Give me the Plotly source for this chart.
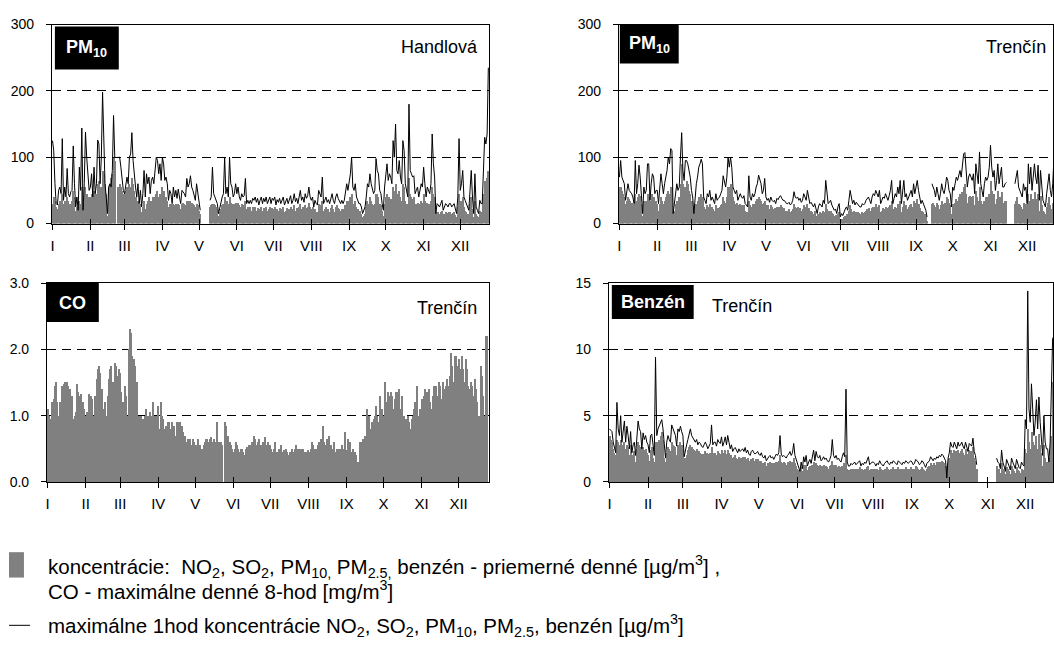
import plotly.graph_objects as go

W, H = 1054, 646
FONT = "Liberation Sans, Arial, sans-serif"

month_labels = ["I", "II", "III", "IV", "V", "VI", "VII", "VIII", "IX", "X", "XI", "XII"]
month_lengths = [31, 28, 31, 30, 31, 30, 31, 31, 30, 31, 30, 31]
N_ = None

# ---- Handlová PM10: daily mean (bars) and daily max 1h (line) ----
hand_mean = [
    30,40,35,25,22,30,35,30,45,30,35,30,40,35,30,28,35,50,40,20,25,18,35,30,55,15,30,55,45,40,35,
    40,45,35,50,40,45,60,65,45,55,80,75,60,45,12,55,60,70,75,100,95,N_,N_,55,60,55,50,45,
    45,50,55,40,60,55,70,60,50,40,30,35,20,30,18,25,35,22,30,35,40,25,35,40,30,40,45,50,40,45,35,
    55,50,40,40,35,25,30,30,22,30,28,30,25,30,28,22,30,32,30,28,35,32,35,35,32,30,28,25,30,28,
    20,15,N_,N_,N_,N_,N_,N_,N_,25,28,30,30,28,25,22,12,18,22,28,30,40,30,35,30,40,32,30,28,30,32,
    30,32,28,25,30,28,28,35,22,25,22,25,20,25,22,25,20,24,18,22,25,20,24,22,25,20,22,25,20,24,
    22,25,18,22,20,24,18,22,25,18,20,24,18,22,26,18,22,28,20,24,18,25,30,22,25,20,28,24,26,32,25,
    22,25,16,22,18,18,30,28,25,35,20,22,25,20,22,18,24,28,22,18,25,28,24,22,20,22,20,22,28,35,30,
    35,40,45,30,30,35,25,22,18,20,15,10,12,15,25,35,30,40,35,30,28,30,45,45,40,30,28,20,12,30,
    40,45,35,40,38,35,55,50,60,45,40,50,40,35,60,55,35,30,28,70,45,40,38,40,28,30,32,25,30,35,32,
    45,35,25,32,30,28,35,55,45,40,10,18,18,15,18,20,12,15,18,16,15,18,18,15,16,18,14,10,25,45,
    30,35,40,25,20,18,15,12,30,40,22,10,35,15,12,10,20,18,18,45,65,60,70,80,
]
hand_max = [
    125,110,60,30,28,50,55,45,128,35,55,40,83,45,40,48,50,117,60,25,40,20,85,50,144,20,60,138,100,70,50,
    55,75,40,85,45,60,126,120,60,100,198,130,60,40,15,55,60,55,80,163,100,N_,N_,100,100,85,60,50,
    45,55,70,60,100,105,137,95,70,55,40,60,30,50,25,45,80,40,75,60,70,45,65,70,60,85,100,95,75,90,65,
    100,90,65,70,60,35,50,45,30,55,40,50,38,52,40,30,50,48,45,40,68,55,60,72,55,50,40,35,60,45,
    30,20,N_,N_,N_,N_,N_,N_,N_,35,40,85,45,40,35,30,15,25,30,40,45,100,45,55,40,100,60,55,40,45,60,
    45,55,40,35,45,40,42,68,30,35,30,35,30,38,35,40,32,38,28,35,40,30,38,33,40,30,35,40,30,38,
    35,40,28,36,32,38,30,35,40,28,33,38,30,36,42,30,35,45,33,38,30,40,50,35,40,32,45,38,42,55,40,
    35,40,25,35,30,28,50,45,40,70,30,35,40,32,36,30,38,45,35,30,40,45,38,35,30,35,30,35,45,60,50,
    60,75,100,55,50,60,40,35,30,30,25,15,20,25,40,60,55,75,60,50,45,50,98,80,75,50,45,30,20,55,
    75,90,65,75,70,60,125,100,150,80,75,95,70,60,125,110,60,50,40,180,80,75,70,72,45,50,55,40,50,60,55,
    85,60,40,55,50,45,60,135,90,70,15,30,28,25,30,35,20,25,30,28,25,30,30,25,28,30,22,15,40,128,
    50,60,80,40,35,30,25,20,50,80,40,15,75,25,20,15,35,30,30,90,130,120,135,235,
]

# ---- Trenčín PM10 ----
tren_mean = [
    55,55,50,45,40,30,35,40,38,35,32,30,25,45,35,40,45,42,30,12,35,30,35,45,40,25,35,45,40,30,35,
    30,20,30,40,35,30,35,40,45,50,45,55,55,10,20,30,35,35,40,60,90,60,45,55,65,60,50,45,
    35,25,10,25,30,35,40,40,45,40,25,22,20,28,25,30,22,25,22,20,28,22,24,25,28,30,40,35,32,40,55,
    55,60,55,40,35,30,32,25,28,30,28,25,28,20,18,18,35,28,25,30,28,30,35,38,40,38,35,30,32,35,
    28,25,28,22,28,25,22,24,20,25,24,26,28,25,22,24,20,20,18,22,18,20,22,30,25,24,25,22,24,20,22,
    28,25,22,30,24,20,20,18,15,20,12,10,15,18,16,15,20,18,30,22,18,20,20,16,15,12,14,10,15,18,
    6,8,8,10,12,15,12,20,28,22,18,20,16,18,18,16,15,15,18,16,18,20,22,24,20,18,24,26,25,30,26,
    24,28,18,20,24,22,26,24,20,25,28,35,18,22,26,24,30,26,35,18,26,35,24,28,22,25,28,30,26,35,30,
    32,38,30,24,18,20,18,15,12,5,N_,N_,N_,30,32,28,25,32,28,22,28,35,30,28,32,40,38,32,28,15,
    30,28,32,38,35,40,45,40,48,55,60,45,32,40,42,40,38,42,28,50,40,35,55,35,30,25,35,40,38,40,45,
    65,50,40,45,30,38,50,35,40,48,32,32,35,35,N_,N_,N_,N_,N_,N_,30,35,40,30,28,25,22,32,28,30,
    18,45,35,45,30,38,48,38,35,45,20,42,28,20,18,15,25,32,40,28,22,32,45,50,
]
tren_max = [
    70,95,70,65,60,35,50,60,50,48,45,40,30,95,45,60,88,70,40,15,55,45,50,90,90,35,60,75,70,45,50,
    50,30,50,75,60,45,60,70,80,100,90,113,110,15,30,45,60,50,55,100,137,80,65,95,95,90,80,70,
    50,40,15,45,60,70,85,90,97,90,40,35,30,45,40,50,35,40,35,30,45,35,38,40,45,50,72,60,55,70,100,
    85,100,85,55,50,45,50,35,40,45,40,38,42,30,28,25,72,40,35,45,40,45,55,60,73,65,60,45,50,68,
    40,35,38,32,40,35,33,35,30,38,36,40,42,38,35,35,32,30,30,32,28,30,35,48,40,38,40,35,38,32,35,
    45,40,35,50,38,30,32,28,25,30,20,15,25,30,28,25,35,30,65,40,30,32,35,28,25,20,22,15,25,30,
    10,15,12,18,22,25,20,35,50,40,30,35,28,32,30,28,25,25,30,28,30,35,38,40,35,30,40,45,42,50,45,
    40,50,30,35,40,38,45,40,35,42,50,65,30,38,45,40,55,45,65,30,45,65,40,45,35,40,45,50,40,60,45,
    55,65,50,40,30,35,30,25,20,10,N_,N_,N_,60,55,50,40,55,45,35,45,60,50,45,55,70,65,50,45,25,
    55,50,60,70,65,75,80,70,90,105,107,80,55,70,75,70,65,75,45,90,70,60,108,60,50,40,60,70,65,70,85,
    118,85,70,80,50,65,90,60,70,85,55,55,60,62,N_,N_,N_,N_,N_,N_,60,70,80,55,50,45,40,60,50,55,
    30,90,60,85,50,70,90,70,60,88,35,80,50,35,30,25,45,60,75,50,40,60,100,110,
]

# ---- Trenčín CO: maximum daily 8-h mean ----
co_8h = [
    1.1,1.0,0.95,0.95,1.2,1.25,1.45,1.5,1.2,1.0,1.2,0.8,1.45,1.48,1.5,1.0,1.5,1.45,1.4,1.2,1.3,0.95,1.0,1.05,1.47,1.35,1.3,1.32,1.15,1.2,1.1,
    1.0,1.05,1.0,1.32,1.3,1.25,1.0,0.95,1.3,1.55,1.7,1.75,1.65,1.4,0.65,1.1,1.2,1.0,1.3,1.55,1.7,1.75,1.5,1.4,1.8,1.75,1.6,1.7,
    1.65,1.35,1.2,1.0,1.45,1.3,1.0,2.0,2.3,2.25,1.9,1.85,1.75,1.5,1.5,1.0,1.0,1.0,0.95,0.95,1.0,1.1,0.9,1.0,1.05,0.95,1.0,1.2,1.0,0.85,1.0,
    1.15,0.8,1.2,1.0,0.95,0.8,0.85,0.8,0.9,0.9,0.8,0.9,0.75,0.85,0.7,0.9,0.9,0.85,0.9,0.85,0.75,0,0.7,0.6,0.65,0.6,0.65,0.55,0.65,0.6,
    0.5,0.55,0.65,0.5,0.55,0.5,0.5,0.55,0.6,0.65,0.65,0.6,0.65,0.68,0.6,0.65,0.6,0.55,0.9,0.6,0.55,0.6,0.55,0,0.9,0.85,0.7,0.7,0.6,0.55,0.5,
    0.45,0.5,0.6,0.55,0.5,0.45,0.5,0.5,0.45,0.4,0.5,0.52,0.5,0.55,0.55,0.6,0.5,0.7,0.65,0.55,0.6,0.65,0.55,0.55,0.6,0.45,0.68,0.55,0.6,0.5,
    0.55,0.5,0.45,0.5,0.6,0.45,0.45,0.5,0.5,0.55,0.45,0.48,0.45,0.5,0.45,0.4,0.45,0.4,0.5,0.45,0.5,0.55,0.5,0.5,0.45,0.5,0.45,0.5,0.45,0.4,0.45,
    0.48,0.45,0.5,0.6,0.55,0.5,0.45,0.5,0.55,0.6,0.65,0.5,0.85,0.6,0.55,0.65,0.6,0.7,0.55,0.5,0.5,0.6,0.45,0.5,0.5,0.45,0.5,0.55,0.45,0.5,0.75,
    0.48,0.65,0.55,0.6,0.45,0.5,0.4,0.45,0.4,0.3,0.3,0.6,0.6,0.65,0.65,0.7,0.7,1.1,1.0,0.75,0.8,0.9,0.95,1.0,1.15,1.0,0.9,1.3,0.9,1.1,
    1.0,1.5,1.2,1.0,1.35,1.3,1.35,1.3,1.1,1.25,1.35,1.0,1.35,1.4,1.1,1.3,1.0,1.0,0.95,0.9,1.0,0.9,0.8,0.95,1.0,1.1,1.2,1.45,0.9,1.0,1.1,
    1.25,1.2,1.3,1.4,1.35,1.3,1.4,1.2,1.1,1.3,1.45,1.2,1.45,1.3,1.5,1.45,1.25,1.5,1.4,1.3,1.45,1.55,1.45,1.6,1.95,1.75,1.5,1.9,1.9,1.75,
    1.85,1.7,1.6,1.9,1.7,1.5,1.85,1.7,1.45,1.4,1.5,1.45,1.3,1.55,1.4,1.2,1.0,1.0,1.75,1.6,1.3,1.0,2.2,2.2,
]

# ---- Trenčín benzene ----
benz_mean = [
    3.5,3.2,3.0,2.5,2.2,2.0,3.2,3.0,2.8,3.2,2.5,2.8,3.0,2.5,2.8,2.6,2.0,2.8,1.5,2.0,2.3,1.5,2.5,3.0,2.8,2.6,1.8,2.6,2.4,2.5,2.2,
    2.0,1.6,2.4,2.6,1.8,1.5,3.0,2.8,3.0,3.2,3.5,3.8,3.2,1.8,1.5,2.2,2.6,2.5,2.3,3.0,2.8,2.7,2.6,2.0,2.8,2.8,3.0,2.8,
    2.5,1.5,1.8,2.0,2.4,2.6,2.8,2.6,2.5,2.4,2.3,2.5,2.2,2.3,2.2,2.1,2.0,2.1,2.3,2.2,2.0,2.1,2.2,2.6,2.1,2.2,2.2,2.0,2.3,2.2,2.1,
    2.4,2.0,2.2,2.4,2.1,2.4,2.2,1.9,2.0,1.8,1.9,2.0,1.8,1.7,1.9,1.8,1.8,1.9,1.7,1.9,1.7,1.8,1.6,1.5,1.7,1.8,1.6,1.6,1.7,1.7,
    1.6,1.5,1.6,1.4,1.4,1.5,1.2,1.4,1.4,1.5,1.4,1.4,1.3,1.4,1.5,1.5,1.6,2.0,1.5,1.4,1.5,1.4,1.3,1.5,1.5,1.6,1.4,1.5,1.8,1.4,1.2,
    1.0,0.9,0.6,1.1,0.8,1.3,1.1,1.3,0.9,1.1,1.2,1.0,1.3,1.5,1.1,1.4,1.3,1.2,1.3,1.1,1.2,1.3,1.2,1.2,1.1,1.0,1.2,1.3,1.6,1.3,
    1.2,1.3,1.1,1.2,1.1,1.0,1.2,1.4,1.2,2.0,1.0,0.9,0.9,1.0,0.9,1.0,1.0,0.9,1.0,1.0,1.1,0.9,1.0,0.9,1.0,1.0,1.1,1.2,0.9,1.0,1.0,
    1.0,1.0,0.9,1.0,0.9,1.1,1.0,0.9,0.9,1.0,1.0,1.1,1.0,0.9,1.0,1.0,1.1,1.0,1.0,0.9,1.1,1.0,1.0,0.9,1.0,1.0,1.1,1.0,1.0,1.0,1.1,
    1.0,0.9,1.0,1.2,1.1,1.0,0.9,1.0,1.1,1.0,0.9,0.8,1.0,1.1,1.2,1.4,1.3,1.2,1.4,1.3,1.5,1.4,1.5,1.5,1.6,1.5,1.4,1.2,0.2,1.4,
    1.8,2.4,2.2,2.1,2.4,2.3,2.0,2.4,2.2,2.3,2.5,2.2,2.0,2.5,2.1,1.9,2.4,2.3,2.2,2.6,1.8,1.6,1.0,N_,N_,N_,N_,N_,N_,N_,N_,
    N_,N_,N_,N_,N_,N_,N_,1.2,1.0,1.0,0.7,1.4,1.0,0.8,0.6,1.1,1.0,0.8,0.6,1.2,1.0,0.8,0.7,1.1,0.9,0.8,0.7,1.0,0.9,0.8,
    2.5,2.2,4.0,3.0,2.5,3.8,3.0,2.2,2.8,3.5,2.5,3.6,2.8,2.2,1.2,2.8,1.8,1.5,1.5,1.0,1.8,3.5,7.5,7.5,
]
benz_max = [
    4.0,3.9,3.8,3.0,2.5,2.2,6.0,4.0,3.5,5.0,3.0,3.8,4.6,3.0,4.2,3.5,2.5,3.8,2.2,2.8,3.0,2.0,3.5,4.6,4.0,3.8,2.5,3.7,3.2,3.5,3.0,
    2.8,2.2,3.5,3.6,2.5,2.0,9.4,3.5,4.0,4.2,4.5,4.7,4.0,2.5,1.8,3.0,3.5,3.2,3.0,4.3,4.0,3.8,3.5,2.7,4.0,3.8,4.2,3.8,
    3.5,1.9,2.5,2.8,3.2,3.6,4.0,3.5,3.3,3.1,3.0,3.2,2.8,3.0,2.9,2.7,2.6,2.8,3.0,2.8,2.5,2.7,2.9,4.3,2.8,3.0,3.0,2.7,3.2,3.0,2.9,
    3.4,2.7,3.0,3.4,2.8,3.5,3.0,2.5,2.8,2.3,2.5,2.6,2.4,2.2,2.5,2.3,2.4,2.5,2.3,2.6,2.2,2.4,2.1,2.0,2.3,2.4,2.2,2.1,2.2,2.3,
    2.1,2.0,2.2,1.9,1.8,2.0,1.6,1.8,1.9,2.0,1.8,1.9,1.7,1.9,2.1,2.0,2.2,3.5,2.1,1.9,2.0,1.9,1.8,2.0,2.1,2.3,2.0,2.2,2.9,2.0,1.7,
    1.4,1.2,0.8,1.5,1.0,1.9,1.5,2.0,1.2,1.5,1.7,1.4,1.9,2.4,1.6,2.3,1.9,1.8,2.0,1.6,1.7,1.9,1.7,1.8,1.6,1.5,1.7,2.0,3.2,2.0,
    1.8,2.0,1.7,1.8,1.6,1.5,1.9,2.2,1.9,7.0,1.5,1.2,1.2,1.4,1.3,1.4,1.5,1.3,1.4,1.5,1.6,1.2,1.4,1.3,1.5,1.4,1.6,1.9,1.3,1.4,1.5,
    1.5,1.4,1.2,1.4,1.3,1.6,1.4,1.3,1.2,1.4,1.5,1.6,1.4,1.3,1.5,1.4,1.6,1.5,1.4,1.3,1.6,1.5,1.4,1.3,1.5,1.4,1.6,1.5,1.4,1.5,1.6,
    1.5,1.3,1.4,1.7,1.6,1.5,1.3,1.4,1.6,1.5,1.3,1.1,1.4,1.5,1.6,1.9,1.7,1.6,1.8,1.7,1.9,1.8,2.0,1.9,2.1,2.0,1.8,1.6,0.3,1.8,
    2.2,3.0,2.7,2.6,3.0,2.8,2.5,3.0,2.7,2.8,3.0,2.7,2.5,3.0,2.6,2.3,2.9,2.8,2.7,3.3,2.3,2.0,1.3,N_,N_,N_,N_,N_,N_,N_,N_,
    N_,N_,N_,N_,N_,N_,N_,1.8,1.5,1.4,1.0,2.4,1.5,1.2,0.8,1.7,1.5,1.2,0.9,1.8,1.5,1.2,1.0,1.7,1.3,1.1,1.0,1.5,1.3,1.2,
    4.7,4.0,14.4,5.5,4.5,7.4,5.5,3.5,4.5,6.2,4.0,6.4,4.5,3.5,2.0,5.0,3.0,2.5,2.5,1.5,3.0,7.0,10.8,11.0,
]

month_starts = [sum(month_lengths[:i]) for i in range(12)]

BAR_GRAY = "rgb(128,128,128)"


def fx(px):
    return px / W


def fy(py):
    return 1 - py / H


# panel layout in pixels: left, right, top, bottom, x-range end, y max, y step
panels = [
    dict(mean=hand_mean, mx=hand_max, l=51, r=489, t=17, b=221, xend=357.6, ymax=300, step=100, fmt="d"),
    dict(mean=tren_mean, mx=tren_max, l=619, r=1054, t=17, b=221, xend=355.2, ymax=300, step=100, fmt="d"),
    dict(mean=co_8h, mx=None, l=46, r=489, t=282, b=486, xend=358.8, ymax=3.0, step=1.0, fmt=".1f"),
    dict(mean=benz_mean, mx=benz_max, l=609, r=1054, t=282, b=486, xend=356.3, ymax=15, step=5, fmt="d"),
]

fig = go.Figure()
layout = dict(
    width=W, height=H, margin=dict(l=0, r=0, t=0, b=0),
    paper_bgcolor="white", plot_bgcolor="white", showlegend=False,
    bargap=0, font=dict(family=FONT, color="black"),
)

for i, p in enumerate(panels, start=1):
    xa = "x" if i == 1 else f"x{i}"
    ya = "y" if i == 1 else f"y{i}"
    days = list(range(len(p["mean"])))
    fig.add_trace(go.Bar(x=days, y=p["mean"], xaxis=xa, yaxis=ya, width=1,
                         marker=dict(color=BAR_GRAY, line=dict(width=0)),
                         hoverinfo="skip"))
    if p["mx"] is not None:
        fig.add_trace(go.Scatter(x=list(range(len(p["mx"]))), y=p["mx"], xaxis=xa, yaxis=ya,
                                 mode="lines", line=dict(color="black", width=1),
                                 hoverinfo="skip"))
    xr = [-0.5, p["xend"]]
    layout[f"xaxis{'' if i == 1 else i}"] = dict(
        domain=[fx(p["l"]), fx(p["r"])], range=xr, anchor=ya,
        tickmode="array", tickvals=month_starts, ticktext=month_labels,
        ticks="outside", ticklen=5, tickwidth=1, tickcolor="black",
        showline=True, linecolor="black", linewidth=1, mirror=True,
        showgrid=False, zeroline=False, ticklabelstandoff=3,
        tickfont=dict(size=15, family=FONT, color="black"),
    )
    ticks = [p["step"] * k for k in range(4)]
    layout[f"yaxis{'' if i == 1 else i}"] = dict(
        domain=[fy(p["b"]), fy(p["t"])], range=[0, p["ymax"]], anchor=xa,
        tickmode="array", tickvals=ticks, tickformat=p["fmt"],
        ticks="outside", ticklen=5, tickwidth=1, tickcolor="black",
        showline=True, linecolor="black", linewidth=1, mirror=True,
        showgrid=True, gridcolor="black", gridwidth=1, griddash="9px,6px",
        zeroline=False, ticklabelstandoff=9,
        tickfont=dict(size=14, family=FONT, color="black"),
    )
    # overlay axis giving the inward half of the crossing month ticks
    oi = i + 4
    fig.add_trace(go.Scatter(x=[None], y=[None], xaxis=f"x{oi}", yaxis=ya,
                             showlegend=False, hoverinfo="skip"))
    layout[f"xaxis{oi}"] = dict(
        overlaying=xa, anchor=ya, range=xr, tickmode="array", tickvals=month_starts,
        ticks="inside", ticklen=5, tickwidth=1, tickcolor="black",
        showticklabels=False, showline=False, showgrid=False, zeroline=False,
    )

fig.update_layout(**layout)

# label boxes
boxes = [
    (54, 19, 118, 63, "<b>PM<sub>10</sub></b>", 86, 42),
    (620, 17, 679, 57, "<b>PM<sub>10</sub></b>", 650, 37),
    (46, 282, 98, 322, "<b>CO</b>", 72, 302),
    (612, 284, 694, 319, "<b>Benzén</b>", 653, 301),
]
for x0, y0, x1, y1, txt, cx, cy in boxes:
    fig.add_shape(type="rect", xref="paper", yref="paper",
                  x0=fx(x0), x1=fx(x1), y0=fy(y1), y1=fy(y0),
                  fillcolor="black", line=dict(width=0), layer="above")
    fig.add_annotation(xref="paper", yref="paper", x=fx(cx), y=fy(cy), text=txt,
                       showarrow=False, xanchor="center", yanchor="middle",
                       font=dict(family=FONT, size=18, color="white"))

stations = [
    ("Handlová", 480, 40, "right"),
    ("Trenčín", 1049, 40, "right"),
    ("Trenčín", 479, 308, "right"),
    ("Trenčín", 710, 306, "left"),
]
for txt, x, y, anc in stations:
    fig.add_annotation(xref="paper", yref="paper", x=fx(x), y=fy(y), text=txt,
                       showarrow=False, xanchor=anc, yanchor="middle",
                       font=dict(family=FONT, size=18, color="black"))

# legend
fig.add_shape(type="rect", xref="paper", yref="paper",
              x0=fx(8), x1=fx(23), y0=fy(584), y1=fy(558),
              fillcolor=BAR_GRAY, line=dict(width=0))
fig.add_shape(type="line", xref="paper", yref="paper",
              x0=fx(8), x1=fx(29), y0=fy(633), y1=fy(633),
              line=dict(color="black", width=1))
legend_lines = [
    ("koncentrácie:  NO<sub>2</sub>, SO<sub>2</sub>, PM<sub>10,</sub> PM<sub>2.5,</sub> benzén - priemerné denné [µg/m<sup>3</sup>] ,", 573),
    ("CO - maximálne denné 8-hod [mg/m<sup>3</sup>]", 597),
    ("maximálne 1hod koncentrácie NO<sub>2</sub>, SO<sub>2</sub>, PM<sub>10</sub>, PM<sub>2.5</sub>, benzén [µg/m<sup>3</sup>]", 633),
]
for txt, y in legend_lines:
    fig.add_annotation(xref="paper", yref="paper", x=fx(45), y=fy(y), text=txt,
                       showarrow=False, xanchor="left", yanchor="middle",
                       font=dict(family=FONT, size=20.5, color="black"))

fig.write_html("out.html")
